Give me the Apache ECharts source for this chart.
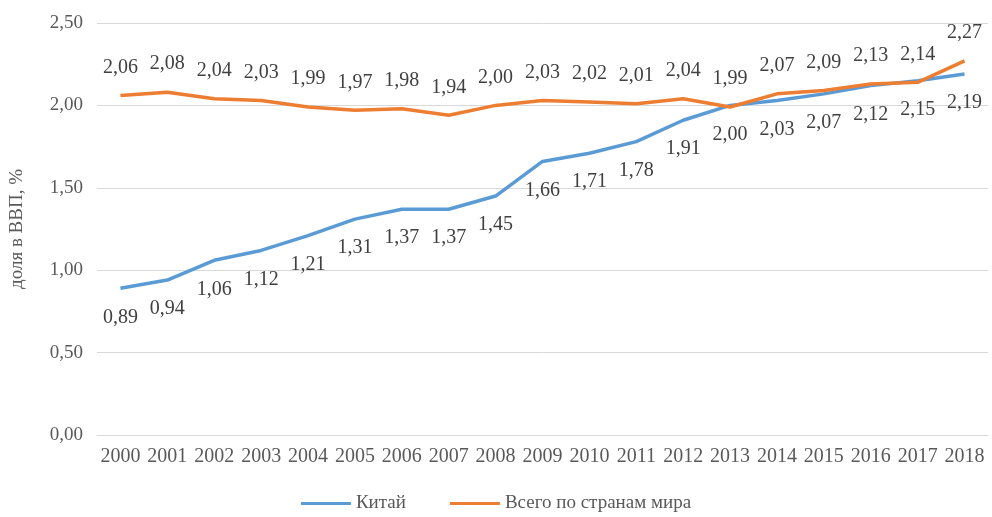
<!DOCTYPE html>
<html>
<head>
<meta charset="utf-8">
<script src="https://cdn.jsdelivr.net/npm/echarts@6/dist/echarts.min.js"></script>
<style>
  html, body { margin: 0; padding: 0; background: #fff; }
  #chart { width: 992px; height: 517px; }
</style>
</head>
<body>
<div id="chart"></div>
<script>
// годы
const years = ['2000', '2001', '2002', '2003', '2004', '2005', '2006', '2007', '2008', '2009',
  '2010', '2011', '2012', '2013', '2014', '2015', '2016', '2017', '2018'];
// Китай
const china = [0.89, 0.94, 1.06, 1.12, 1.21, 1.31, 1.37, 1.37, 1.45, 1.66,
  1.71, 1.78, 1.91, 2.00, 2.03, 2.07, 2.12, 2.15, 2.19];
// Всего по странам мира
const world = [2.06, 2.08, 2.04, 2.03, 1.99, 1.97, 1.98, 1.94, 2.00, 2.03,
  2.02, 2.01, 2.04, 1.99, 2.07, 2.09, 2.13, 2.14, 2.27];

const fmt = v => v.toFixed(2).replace('.', ',');
const font = '"Liberation Serif", serif';

const chart = echarts.init(document.getElementById('chart'));
chart.setOption({
  animation: false,
  textStyle: { fontFamily: font },
  grid: { left: 97, right: 4, top: 23, bottom: 82 },
  legend: {
    bottom: -1,
    left: 'center',
    itemWidth: 50,
    itemHeight: 3,
    itemGap: 44,
    icon: 'rect',
    textStyle: { fontFamily: font, fontSize: 19, color: '#595959' },
    data: ['Китай', 'Всего по странам мира']
  },
  xAxis: {
    type: 'category',
    data: years,
    boundaryGap: true,
    axisLine: { lineStyle: { color: '#d9d9d9', width: 1 } },
    axisTick: { show: false },
    axisLabel: { fontFamily: font, fontSize: 20, color: '#595959', margin: 12, interval: 0 }
  },
  yAxis: {
    type: 'value',
    min: 0,
    max: 2.5,
    interval: 0.5,
    name: 'доля в ВВП, %',
    nameLocation: 'middle',
    nameGap: 70,
    nameTextStyle: { fontFamily: font, fontSize: 19, color: '#595959' },
    axisLine: { show: false },
    axisTick: { show: false },
    splitLine: { lineStyle: { color: '#d9d9d9', width: 1 } },
    axisLabel: { fontFamily: font, fontSize: 19, color: '#595959', margin: 14, formatter: fmt }
  },
  series: [
    {
      name: 'Китай',
      type: 'line',
      data: china,
      symbol: 'circle',
      symbolSize: 0,
      lineStyle: { color: '#5b9bd5', width: 3.5 },
      itemStyle: { color: '#5b9bd5' },
      label: {
        show: true,
        position: 'bottom',
        distance: 19,
        fontFamily: font,
        fontSize: 20,
        color: '#404040',
        formatter: p => fmt(p.value)
      }
    },
    {
      name: 'Всего по странам мира',
      type: 'line',
      data: world,
      symbol: 'circle',
      symbolSize: 0,
      lineStyle: { color: '#ed7d31', width: 3.5 },
      itemStyle: { color: '#ed7d31' },
      label: {
        show: true,
        position: 'top',
        distance: 18,
        fontFamily: font,
        fontSize: 20,
        color: '#404040',
        formatter: p => fmt(p.value)
      }
    }
  ]
});
</script>
</body>
</html>
